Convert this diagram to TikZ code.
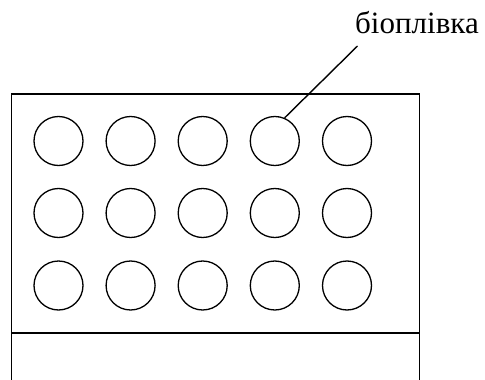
\documentclass[tikz,border=0pt]{standalone}
\usepackage{fontspec}
\setmainfont{Liberation Serif}
\begin{document}
\begin{tikzpicture}[x=1pt,y=-1pt,
  line/.style={line width=1.4pt,black},
  well/.style={circle,draw,line width=1.3pt,minimum size=49pt,inner sep=0pt},
  lbl/.style={font=\fontsize{31}{34}\selectfont,inner sep=0pt,anchor=base west}]
\path[use as bounding box,clip] (0,0) rectangle (485,380);
\draw[line] (11.5,94) rectangle (419.5,390);
\draw[line] (11.5,333) -- (419.5,333);
\foreach \r/\y in {1/141,2/213,3/285.5}{
  \foreach \c/\x in {1/58.5,2/130.6,3/202.7,4/274.8,5/347}{
    \node[well] (w\r\c) at (\x,\y) {};
  }
}
\node[lbl] (t) at (355,33.3) {біоплівка};
\coordinate (e) at (357.5,46);
\draw[line] (e) -- (w14.67);
\end{tikzpicture}
\end{document}
